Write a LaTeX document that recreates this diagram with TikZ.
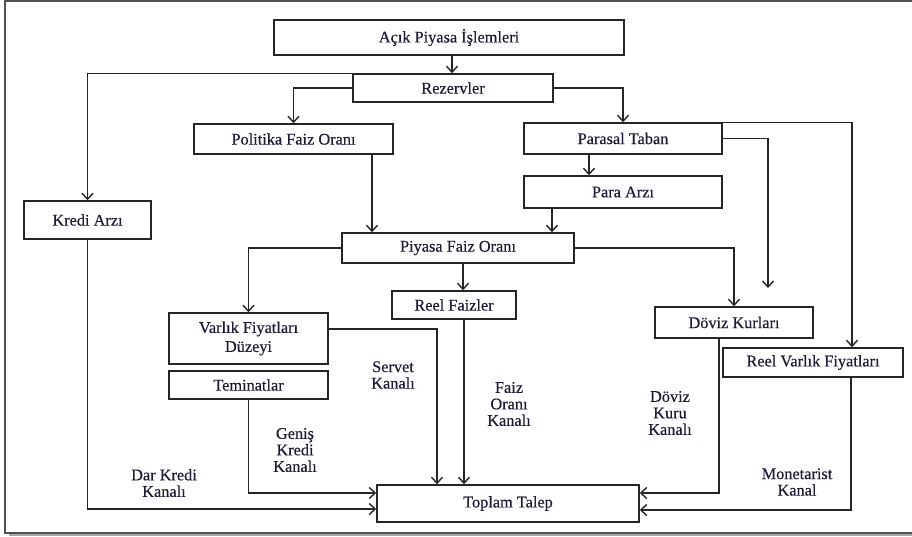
\documentclass[tikz,border=0pt]{standalone}
\usepackage{fontspec}
\setmainfont{Liberation Serif}[FakeBold=0.35]
\usetikzlibrary{arrows.meta,calc}
\definecolor{ink}{HTML}{1C1C34}
\definecolor{edge}{HTML}{262626}
\tikzset{
  box/.style={draw=edge, line width=1.5pt, inner sep=0pt, align=center, text=ink,
    font=\fontsize{16.3}{19}\selectfont, anchor=center},
  lab/.style={inner sep=0pt, align=center, text=ink, font=\fontsize{16.3}{16.5}\selectfont, anchor=center},
  arr/.style={draw=edge, line width=1.5pt, -{Straight Barb[length=6pt,width=11pt,line width=1.4pt]}},
  ln/.style={draw=edge, line width=1.5pt}
}
\begin{document}
\begin{tikzpicture}[x=1pt,y=-1pt]
\useasboundingbox (0,0) rectangle (912,536);
% frame and shadow
\fill[gray!70] (9,533) rectangle (920,536);
\draw[line width=1.4pt, draw=edge!80] (5,1) rectangle (918,533);

% boxes
\node[box, minimum width=350pt, minimum height=35pt] (acik) at (449,37.5) {Açık Piyasa İşlemleri};
\node[box, minimum width=200pt, minimum height=28pt] (rez) at (453,88) {Rezervler};
\node[box, minimum width=199pt, minimum height=30pt] (pol) at (293.5,139) {Politika Faiz Oranı};
\node[box, minimum width=127pt, minimum height=38pt] (kredi) at (87.5,220) {Kredi Arzı};
\node[box, minimum width=198pt, minimum height=31pt] (par) at (623,138.5) {Parasal Taban};
\node[box, minimum width=198pt, minimum height=32pt] (para) at (623,192) {Para Arzı};
\node[box, minimum width=232pt, minimum height=30pt] (piy) at (458,248) {Piyasa Faiz Oranı};
\node[box, minimum width=124pt, minimum height=28pt] (reel) at (454,305) {Reel Faizler};
\node[box, minimum width=159pt, minimum height=51pt] (varlik) at (248.5,338.5) {Varlık Fiyatları\\Düzeyi};
\node[box, minimum width=159pt, minimum height=28pt] (tem) at (248.5,385) {Teminatlar};
\node[box, minimum width=158pt, minimum height=31pt] (doviz) at (734,322.5) {Döviz Kurları};
\node[box, minimum width=180pt, minimum height=29pt] (rva) at (813,362.5) {Reel Varlık Fiyatları};
\node[box, minimum width=262pt, minimum height=37pt] (top) at (508,503.5) {Toplam Talep};

% labels
\node[lab] (l1) at (393,375) {Servet\\Kanalı};
\node[lab] (l2) at (295,450) {Geniş\\Kredi\\Kanalı};
\node[lab] (l3) at (164,483) {Dar Kredi\\Kanalı};
\node[lab] (l4) at (509,404) {Faiz\\Oranı\\Kanalı};
\node[lab] (l5) at (670,413) {Döviz\\Kuru\\Kanalı};
\node[lab] (l6) at (797,482) {Monetarist\\Kanal};

\coordinate (pe) at (768,288);

% connectors
\draw[arr] ([xshift=-1pt]rez.north |- acik.south) -- ([xshift=-1pt]rez.north);
\draw[arr] (rez.north west) -| (kredi.north);
\draw[arr] (rez.west) -| (pol.north);
\draw[arr] (rez.east) -| (par.north);
\draw[arr] ([xshift=78.5pt]pol.south) -- ([xshift=78.5pt]pol.south |- piy.north);
\draw[arr] ([xshift=-34pt]par.south) -- ([xshift=-34pt]par.south |- para.north);
\draw[arr] ([xshift=-71pt]para.south) -- ([xshift=-71pt]para.south |- piy.north);
\draw[arr] (par.north east) -| ([xshift=39pt]rva.north);
\draw[arr] (par.east) -| (pe);
\draw[arr] (piy.east) -| (doviz.north);
\draw[arr] (piy.west) -| (varlik.north);
\draw[arr] ([xshift=5pt]piy.south) -- ([xshift=5pt]piy.south |- reel.north);
\draw[arr] ([xshift=10pt]reel.south) -- ([xshift=10pt]reel.south |- top.north);
\draw[arr] ([yshift=9.5pt]varlik.east) -| ([xshift=-71pt]top.north);
\draw[arr] (tem.south) |- ([yshift=10.5pt]top.west);
\draw[arr] (kredi.south) |- ([yshift=-5.5pt]top.west);
\draw[arr] ([xshift=-15pt]doviz.south) |- ([yshift=10.5pt]top.east);
\draw[arr] ([xshift=38pt]rva.south) |- ([yshift=-6.5pt]top.east);
\end{tikzpicture}
\end{document}
